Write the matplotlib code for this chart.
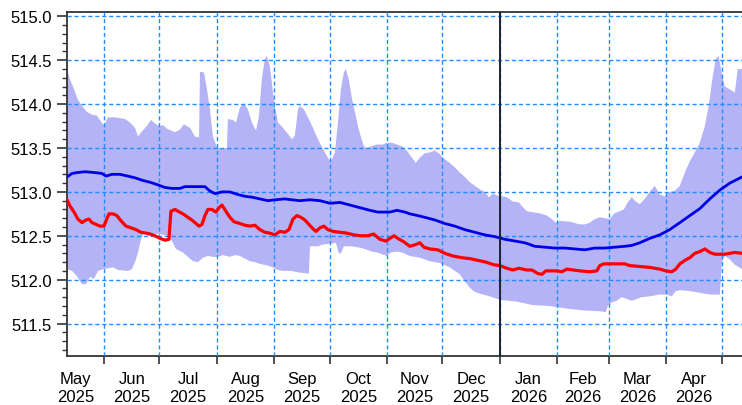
import numpy as np
import pandas as pd
import matplotlib
matplotlib.use("Agg")
import matplotlib.pyplot as plt
import matplotlib.dates as mdates
from matplotlib.ticker import FixedLocator, MultipleLocator, NullFormatter

plt.rcParams['font.family'] = ['Liberation Sans', 'DejaVu Sans']

# window starts here, x values are days after this date
start = "2025-05-12"
today = "2026-01-01"

# upper edge of the shaded band
up_day = [0, 1.6, 3.8, 5.9, 8.1, 10.8, 13.5, 16.2, 18.4, 20.0, 22.2, 25.9, 31.4, 34.1, 36.8, 38.4,
          40.5, 43.2, 45.4, 47.6, 49.7, 51.9, 54.1, 58.4, 61.1, 63.2, 66.5, 69.2, 71.4, 71.9, 74.1,
          75.7, 77.3, 78.9, 81.1, 84.3, 86.5, 87.0, 89.7, 91.4, 93.5, 95.7, 97.8, 100.0, 102.2,
          103.8, 105.4, 107.0, 108.1, 109.7, 111.4, 112.4, 114.1, 116.8, 119.5, 121.6, 123.2,
          124.9, 125.9, 128.1, 130.3, 133.0, 135.7, 138.4, 140.5, 142.2, 143.2, 144.9, 146.5,
          148.1, 149.7, 150.8, 152.4, 154.1, 155.7, 157.3, 158.9, 160.5, 162.2, 164.9, 167.6,
          170.8, 173.0, 175.7, 178.4, 181.1, 183.8, 186.5, 188.6, 190.8, 193.5, 196.2, 198.9,
          201.6, 203.8, 207.0, 209.7, 212.4, 215.1, 217.8, 220.5, 223.2, 225.9, 228.1, 230.3,
          232.4, 235.1, 237.8, 241.1, 244.3, 245.9, 248.6, 251.4, 256.8, 259.5, 262.2, 264.3,
          266.5, 271.9, 277.3, 280.0, 282.7, 285.4, 288.1, 293.5, 295.7, 298.9, 301.1, 303.2,
          305.4, 307.0, 309.7, 312.4, 315.1, 317.8, 320.5, 323.2, 325.9, 328.6, 331.4, 334.1,
          336.8, 339.5, 342.2, 344.9, 347.0, 349.2, 350.8, 352.4, 354.1, 355.7, 358.4, 361.1,
          362.7, 365.0]
up_val = [514.40, 514.28, 514.17, 514.05, 513.98, 513.91, 513.88, 513.87, 513.80, 513.76, 513.85,
          513.85, 513.83, 513.79, 513.73, 513.63, 513.69, 513.75, 513.82, 513.78, 513.75, 513.76,
          513.72, 513.68, 513.71, 513.77, 513.73, 513.63, 513.62, 514.37, 514.36, 514.17, 513.94,
          513.63, 513.51, 513.49, 513.50, 513.83, 513.82, 513.79, 513.96, 514.01, 513.94, 513.79,
          513.70, 513.86, 514.30, 514.51, 514.55, 514.43, 514.13, 513.98, 513.79, 513.73, 513.66,
          513.60, 513.64, 513.94, 513.98, 513.94, 513.85, 513.73, 513.60, 513.49, 513.41, 513.35,
          513.37, 513.45, 513.79, 514.17, 514.36, 514.40, 514.28, 514.06, 513.91, 513.75, 513.63,
          513.52, 513.50, 513.52, 513.54, 513.54, 513.56, 513.56, 513.54, 513.52, 513.47, 513.39,
          513.33, 513.39, 513.44, 513.45, 513.47, 513.43, 513.38, 513.33, 513.28, 513.22, 513.17,
          513.11, 513.07, 513.03, 513.00, 512.94, 512.98, 512.96, 512.95, 512.94, 512.89, 512.88,
          512.84, 512.78, 512.77, 512.75, 512.73, 512.69, 512.65, 512.67, 512.66, 512.63, 512.63,
          512.65, 512.69, 512.71, 512.69, 512.75, 512.78, 512.80, 512.88, 512.94, 512.90, 512.86,
          512.92, 513.00, 513.07, 512.97, 512.95, 513.00, 513.01, 513.07, 513.22, 513.35, 513.45,
          513.56, 513.75, 513.98, 514.32, 514.51, 514.55, 514.34, 514.20, 514.17, 514.13, 514.40,
          514.40]

# lower edge of the shaded band
lo_day = [0, 2.7, 5.4, 8.1, 10.3, 12.4, 14.6, 16.8, 19.5, 24.9, 27.6, 33.0, 35.1, 36.8, 38.4, 40.0,
          41.6, 50.3, 54.1, 56.8, 58.9, 62.7, 65.4, 68.1, 70.8, 73.5, 76.2, 78.9, 81.6, 84.3, 88.1,
          90.8, 93.5, 96.2, 98.9, 101.6, 104.3, 108.6, 111.4, 114.1, 116.8, 121.1, 125.9, 130.8,
          131.4, 135.7, 138.4, 142.2, 145.4, 147.0, 148.1, 149.7, 154.1, 156.8, 159.5, 162.2,
          164.9, 167.6, 170.3, 173.0, 175.1, 178.4, 181.1, 185.4, 190.8, 196.2, 201.6, 207.0,
          209.7, 212.4, 215.1, 217.8, 220.5, 223.2, 228.6, 234.1, 243.2, 251.9, 261.1, 270.3,
          278.9, 288.1, 291.4, 292.4, 294.6, 297.3, 300.0, 302.7, 305.4, 308.1, 310.8, 315.1,
          320.5, 324.3, 327.0, 329.2, 331.4, 336.8, 342.2, 347.6, 353.0, 354.1, 355.7, 358.4,
          361.1, 365.0]
lo_val = [512.12, 512.10, 512.04, 511.95, 511.95, 512.03, 512.01, 512.10, 512.12, 512.14, 512.11,
          512.10, 512.12, 512.20, 512.31, 512.46, 512.53, 512.52, 512.50, 512.44, 512.35, 512.31,
          512.26, 512.21, 512.20, 512.25, 512.27, 512.26, 512.26, 512.28, 512.26, 512.28, 512.27,
          512.24, 512.21, 512.20, 512.18, 512.16, 512.14, 512.11, 512.10, 512.10, 512.08, 512.07,
          512.38, 512.38, 512.40, 512.41, 512.42, 512.30, 512.30, 512.38, 512.38, 512.37, 512.36,
          512.34, 512.32, 512.31, 512.29, 512.27, 512.31, 512.32, 512.31, 512.27, 512.25, 512.21,
          512.19, 512.14, 512.10, 512.06, 511.98, 511.91, 511.86, 511.84, 511.81, 511.77, 511.75,
          511.71, 511.70, 511.67, 511.65, 511.64, 511.63, 511.70, 511.74, 511.76, 511.80, 511.78,
          511.76, 511.78, 511.80, 511.81, 511.83, 511.83, 511.81, 511.87, 511.88, 511.87, 511.85,
          511.83, 511.83, 512.20, 512.27, 512.23, 512.17, 512.12]

# blue line
blue_day = [0, 2.7, 5.4, 9.7, 15.1, 18.9, 21.1, 24.3, 28.6, 33.0, 36.8, 41.1, 44.9, 49.2, 53.0, 56.8,
            61.1, 63.8, 71.9, 74.6, 77.3, 80.0, 83.8, 88.1, 92.4, 96.2, 100.0, 104.3, 108.6, 112.4,
            117.8, 121.6, 125.9, 131.4, 136.8, 142.2, 147.6, 153.0, 158.4, 163.8, 168.1, 174.6,
            178.4, 182.7, 185.4, 189.7, 193.5, 198.9, 204.3, 209.7, 215.1, 220.5, 225.9, 231.4,
            236.8, 242.2, 247.6, 253.0, 258.4, 263.8, 269.2, 274.6, 280.0, 285.4, 290.8, 296.2,
            301.6, 305.4, 309.7, 315.1, 320.5, 325.9, 331.4, 336.8, 342.2, 347.6, 353.0, 358.4,
            365.0]
blue_val = [513.17, 513.21, 513.22, 513.23, 513.22, 513.21, 513.18, 513.20, 513.20, 513.18, 513.16,
            513.13, 513.11, 513.08, 513.05, 513.04, 513.04, 513.06, 513.06, 513.06, 513.01, 512.98,
            513.00, 513.00, 512.97, 512.95, 512.94, 512.92, 512.90, 512.91, 512.92, 512.91, 512.90,
            512.91, 512.90, 512.87, 512.88, 512.85, 512.82, 512.79, 512.77, 512.77, 512.79, 512.77,
            512.75, 512.73, 512.71, 512.68, 512.64, 512.61, 512.57, 512.54, 512.51, 512.49, 512.46,
            512.44, 512.42, 512.38, 512.37, 512.36, 512.36, 512.35, 512.34, 512.36, 512.36, 512.37,
            512.38, 512.39, 512.42, 512.47, 512.51, 512.57, 512.65, 512.73, 512.81, 512.92, 513.02,
            513.10, 513.17]

# red line
red_day = [0, 1.6, 3.8, 5.9, 8.1, 10.3, 11.9, 13.5, 15.7, 17.8, 20.0, 21.1, 22.7, 24.9, 27.0, 29.2,
           31.9, 34.6, 37.3, 40.0, 42.7, 44.9, 47.6, 50.3, 53.0, 55.1, 56.2, 58.4, 60.0, 62.7, 65.4,
           68.1, 71.4, 73.0, 74.6, 76.2, 78.4, 80.5, 82.2, 83.8, 85.9, 88.1, 90.3, 93.5, 96.2, 98.9,
           101.6, 104.3, 107.0, 109.7, 112.4, 115.1, 117.8, 120.0, 122.2, 124.3, 126.5, 128.6,
           130.8, 133.0, 134.6, 136.8, 138.9, 141.1, 143.8, 147.6, 151.4, 155.1, 158.9, 162.7,
           165.9, 169.2, 172.4, 174.6, 176.8, 178.9, 182.2, 185.4, 188.6, 190.8, 193.0, 196.2,
           200.5, 204.3, 208.6, 213.5, 217.8, 222.2, 226.5, 230.8, 234.1, 237.8, 241.1, 244.3,
           248.6, 251.4, 254.6, 256.8, 258.9, 264.9, 267.6, 270.3, 277.3, 282.7, 286.5, 288.1,
           290.3, 301.6, 304.3, 309.7, 315.1, 320.5, 323.8, 327.0, 329.2, 331.4, 334.1, 336.8,
           339.5, 342.2, 344.9, 347.6, 350.3, 355.7, 358.4, 361.1, 365.0]
red_val = [512.91, 512.84, 512.77, 512.69, 512.65, 512.68, 512.69, 512.65, 512.63, 512.61, 512.61,
           512.67, 512.75, 512.75, 512.73, 512.67, 512.61, 512.59, 512.57, 512.54, 512.53, 512.52,
           512.50, 512.47, 512.45, 512.46, 512.78, 512.80, 512.78, 512.75, 512.71, 512.67, 512.61,
           512.63, 512.73, 512.80, 512.80, 512.77, 512.82, 512.85, 512.78, 512.71, 512.66, 512.64,
           512.62, 512.61, 512.62, 512.57, 512.54, 512.53, 512.51, 512.55, 512.54, 512.57, 512.69,
           512.73, 512.71, 512.68, 512.63, 512.58, 512.55, 512.59, 512.61, 512.57, 512.55, 512.54,
           512.53, 512.51, 512.50, 512.50, 512.52, 512.46, 512.44, 512.47, 512.50, 512.47, 512.43,
           512.38, 512.40, 512.42, 512.37, 512.35, 512.34, 512.30, 512.27, 512.25, 512.24, 512.22,
           512.20, 512.17, 512.16, 512.13, 512.11, 512.13, 512.11, 512.11, 512.07, 512.06, 512.10,
           512.10, 512.09, 512.12, 512.10, 512.09, 512.10, 512.16, 512.18, 512.18, 512.16, 512.15,
           512.14, 512.12, 512.10, 512.09, 512.12, 512.18, 512.22, 512.25, 512.30, 512.32, 512.35,
           512.31, 512.29, 512.29, 512.30, 512.31, 512.30]

y_ticks = [511.5, 512.0, 512.5, 513.0, 513.5, 514.0, 514.5, 515.0]

t0 = mdates.date2num(pd.Timestamp(start))
fig = plt.figure(figsize=(7.42, 4.06), dpi=100)
ax = fig.add_axes([67/742, 1 - 357/406, 1 - 67/742, (357 - 13)/406])

# band as one polygon (upper edge then lower edge backwards)
bx = np.concatenate([t0 + np.array(up_day), (t0 + np.array(lo_day))[::-1]])
by = np.concatenate([np.array(up_val), np.array(lo_val)[::-1]])
ax.fill(bx, by, color='#b3b3f6', lw=0, zorder=1)

ax.plot(t0 + np.array(blue_day), blue_val, color='#0000e8', lw=2.0, zorder=3)
ax.plot(t0 + np.array(red_day), red_val, color='#ff0000', lw=2.3, zorder=3)
ax.axvline(mdates.date2num(pd.Timestamp(today)), color='#1c2233', lw=1.4, zorder=4)

ax.set_xlim(t0, t0 + 365)
ax.set_ylim(511.13, 515.05)

# month boundaries get the tick marks + grid, labels sit in the middle of the month
months = pd.date_range("2025-05-01", "2026-06-01", freq="MS")
bounds = mdates.date2num(months)
ax.xaxis.set_major_locator(FixedLocator(bounds))
ax.xaxis.set_major_formatter(NullFormatter())
mids = (bounds[:-1] + bounds[1:]) / 2
ax.xaxis.set_minor_locator(FixedLocator(mids))
ax.set_xticklabels([m.strftime("%b") + "\n" + m.strftime("%Y") for m in months[:-1]], minor=True)

ax.set_yticks(y_ticks)
ax.set_yticklabels(["%.1f" % v for v in y_ticks])
ax.yaxis.set_minor_locator(MultipleLocator(0.1))

ax.tick_params(axis='x', which='major', length=6, width=1.2, color='#333333')
ax.tick_params(axis='x', which='minor', length=0, pad=11, labelsize=12)
for t in ax.get_xticklabels(minor=True):
    t.set_linespacing(1.25)
ax.tick_params(axis='y', which='major', length=7, width=1.2, color='#333333', labelsize=12, pad=4)
ax.tick_params(axis='y', which='minor', length=3.5, width=1.0, color='#333333')

ax.grid(True, which='major', color='#1f8fff', ls=(0, (3, 2)), lw=1.0, zorder=2)
ax.set_axisbelow(False)

for s in ['left', 'bottom', 'top']:
    ax.spines[s].set_color('#333333')
    ax.spines[s].set_linewidth(1.3)
ax.spines['right'].set_visible(False)

plt.savefig("out.png", dpi=100)
